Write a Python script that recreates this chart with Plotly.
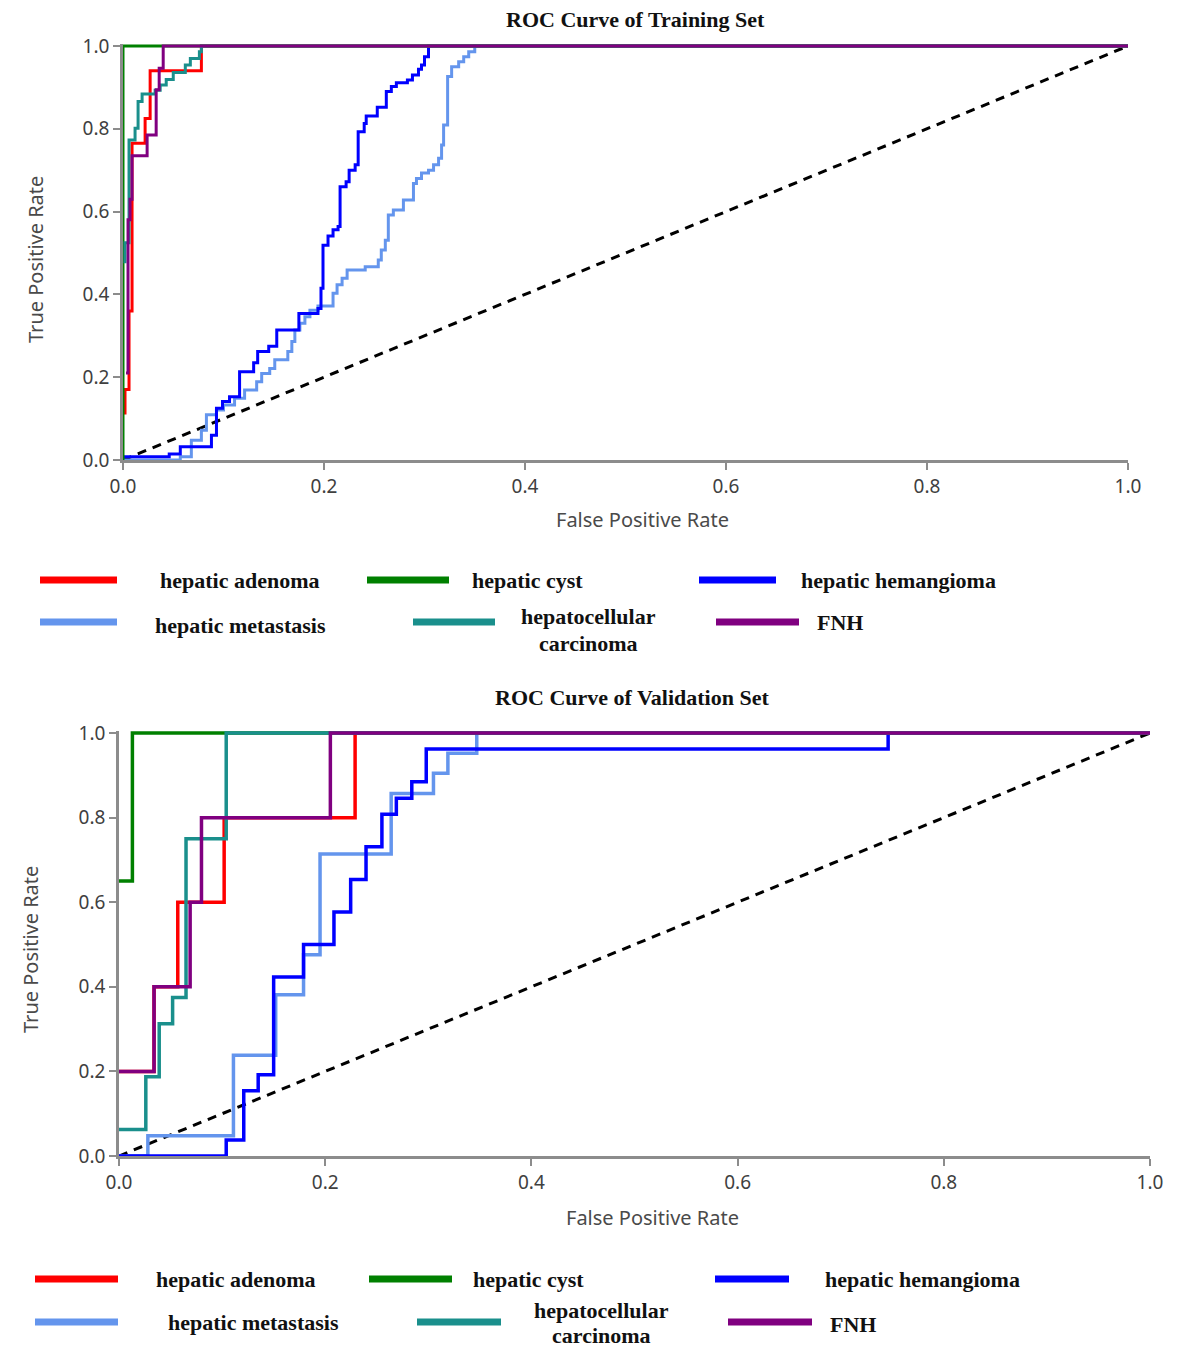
import plotly.graph_objs as go

# ROC points (fpr, tpr), drawn as steps
train_adenoma_fpr = [0.002, 0.002, 0.006, 0.009, 0.022, 0.027, 0.078, 1.0]
train_adenoma_tpr = [0.11, 0.17, 0.36, 0.765, 0.825, 0.94, 1.0, 1.0]
train_cyst_fpr = [0.0, 0.0, 1.0]
train_cyst_tpr = [0.0, 1.0, 1.0]
train_hemangioma_fpr = [0.0, 0.046, 0.057, 0.088, 0.093, 0.099, 0.106, 0.116, 0.130, 0.134,
                        0.145, 0.153, 0.175, 0.194, 0.197, 0.199, 0.204, 0.209, 0.214, 0.216,
                        0.222, 0.225, 0.231, 0.234, 0.240, 0.242, 0.253, 0.262, 0.267, 0.272,
                        0.283, 0.288, 0.294, 0.297, 0.300, 0.304, 1.0]
train_hemangioma_tpr = [0.008, 0.0145, 0.032, 0.060, 0.125, 0.141, 0.153, 0.213, 0.235, 0.262,
                        0.275, 0.314, 0.354, 0.366, 0.415, 0.519, 0.541, 0.556, 0.564, 0.660,
                        0.672, 0.700, 0.713, 0.793, 0.813, 0.831, 0.852, 0.890, 0.902, 0.911,
                        0.918, 0.930, 0.944, 0.954, 0.974, 1.0, 1.0]
train_metastasis_fpr = [0.0, 0.057, 0.068, 0.078, 0.083, 0.093, 0.100, 0.111, 0.121, 0.133,
                        0.138, 0.146, 0.151, 0.164, 0.168, 0.171, 0.176, 0.181, 0.186, 0.194,
                        0.209, 0.213, 0.218, 0.223, 0.241, 0.254, 0.257, 0.261, 0.264, 0.269,
                        0.279, 0.289, 0.292, 0.297, 0.304, 0.309, 0.314, 0.317, 0.319, 0.323,
                        0.327, 0.334, 0.339, 0.344, 0.350, 1.0]
train_metastasis_tpr = [0.0, 0.008, 0.048, 0.072, 0.109, 0.121, 0.133, 0.149, 0.169, 0.189,
                        0.209, 0.221, 0.242, 0.262, 0.286, 0.314, 0.330, 0.346, 0.362, 0.372,
                        0.403, 0.423, 0.439, 0.459, 0.467, 0.483, 0.507, 0.531, 0.592, 0.604,
                        0.628, 0.668, 0.680, 0.693, 0.700, 0.713, 0.729, 0.761, 0.809, 0.926,
                        0.950, 0.962, 0.974, 0.986, 1.0, 1.0]
train_hcc_fpr = [0.002, 0.002, 0.006, 0.012, 0.015, 0.019, 0.032, 0.037, 0.043, 0.050,
                 0.062, 0.067, 0.076, 0.078, 1.0]
train_hcc_tpr = [0.475, 0.525, 0.773, 0.801, 0.866, 0.884, 0.893, 0.906, 0.919, 0.936,
                 0.954, 0.970, 0.986, 1.0, 1.0]
train_fnh_fpr = [0.003, 0.005, 0.007, 0.009, 0.024, 0.033, 0.036, 0.040, 1.0]
train_fnh_tpr = [0.21, 0.58, 0.63, 0.735, 0.785, 0.894, 0.946, 1.0, 1.0]

val_adenoma_fpr = [0.0, 0.034, 0.057, 0.102, 0.229, 1.0]
val_adenoma_tpr = [0.2, 0.4, 0.6, 0.8, 1.0, 1.0]
val_cyst_fpr = [0.0, 0.013, 1.0]
val_cyst_tpr = [0.65, 1.0, 1.0]
val_hemangioma_fpr = [0.0, 0.104, 0.104, 0.121, 0.135, 0.150, 0.179, 0.2085, 0.2247, 0.2396,
                      0.255, 0.269, 0.284, 0.298, 0.746, 1.0]
val_hemangioma_tpr = [0.0, 0.0, 0.038, 0.154, 0.192, 0.423, 0.5, 0.577, 0.654, 0.731,
                      0.808, 0.846, 0.885, 0.962, 1.0, 1.0]
val_metastasis_fpr = [0.0, 0.028, 0.111, 0.152, 0.179, 0.195, 0.264, 0.305, 0.319, 0.347, 1.0]
val_metastasis_tpr = [0.0, 0.048, 0.238, 0.381, 0.476, 0.714, 0.857, 0.905, 0.952, 1.0, 1.0]
val_hcc_fpr = [0.0, 0.026, 0.039, 0.052, 0.065, 0.104, 1.0]
val_hcc_tpr = [0.0625, 0.1875, 0.3125, 0.375, 0.75, 1.0, 1.0]
val_fnh_fpr = [0.0, 0.034, 0.069, 0.080, 0.205, 1.0]
val_fnh_tpr = [0.2, 0.4, 0.6, 0.8, 1.0, 1.0]

chance = [0.0, 1.0]
tick_vals = [0.0, 0.2, 0.4, 0.6, 0.8, 1.0]

names = ['hepatic adenoma', 'hepatic cyst', 'hepatic hemangioma',
         'hepatic metastasis', 'hepatocellular<br>carcinoma', 'FNH']
colors = {
    'hepatic adenoma': '#ff0000',
    'hepatic cyst': '#008000',
    'hepatic hemangioma': '#0000ff',
    'hepatic metastasis': '#6495ed',
    'hepatocellular<br>carcinoma': '#1a8f8c',
    'FNH': '#800080',
}

train = {
    'hepatic metastasis': (train_metastasis_fpr, train_metastasis_tpr),
    'hepatic hemangioma': (train_hemangioma_fpr, train_hemangioma_tpr),
    'hepatic adenoma': (train_adenoma_fpr, train_adenoma_tpr),
    'hepatic cyst': (train_cyst_fpr, train_cyst_tpr),
    'hepatocellular<br>carcinoma': (train_hcc_fpr, train_hcc_tpr),
    'FNH': (train_fnh_fpr, train_fnh_tpr),
}
val = {
    'hepatic metastasis': (val_metastasis_fpr, val_metastasis_tpr),
    'hepatic hemangioma': (val_hemangioma_fpr, val_hemangioma_tpr),
    'hepatic adenoma': (val_adenoma_fpr, val_adenoma_tpr),
    'hepatic cyst': (val_cyst_fpr, val_cyst_tpr),
    'hepatocellular<br>carcinoma': (val_hcc_fpr, val_hcc_tpr),
    'FNH': (val_fnh_fpr, val_fnh_tpr),
}

# page body adds an 8px margin, so the figure is a bit smaller than the window
OFF = 8
W, H = 1181 - OFF, 1348 - OFF


def px(x):
    return (x - OFF) / W


def py(y):
    return 1 - (y - OFF) / H


fig = go.Figure()

for data, xa, ya, lw in [(train, 'x', 'y', 3), (val, 'x2', 'y2', 3.5)]:
    fig.add_trace(go.Scatter(x=chance, y=chance, mode='lines', xaxis=xa, yaxis=ya,
                             line=dict(color='black', width=3, dash='9px,7px'),
                             showlegend=False))
    for name, (fpr, tpr) in data.items():
        fig.add_trace(go.Scatter(x=fpr, y=tpr, mode='lines', xaxis=xa, yaxis=ya,
                                 line=dict(color=colors[name], width=lw, shape='hv'),
                                 showlegend=False))

axis_style = dict(
    showgrid=False, zeroline=False, showline=True, linecolor='#8c8c8c', linewidth=2.5,
    ticks='outside', ticklen=7, tickwidth=2, tickcolor='#8c8c8c',
    tickvals=tick_vals, tickformat='.1f', automargin=False,
    tickfont=dict(family='Noto Sans', size=19, color='#404040'),
)

fig.update_layout(
    width=W, height=H,
    margin=dict(l=0, r=0, t=0, b=0, autoexpand=False),
    plot_bgcolor='white', paper_bgcolor='white',
    showlegend=False,
    xaxis=dict(axis_style, domain=[px(123), px(1128)], range=[0, 1], anchor='y'),
    yaxis=dict(axis_style, domain=[py(460), py(43.5)], range=[0, 1.006], anchor='x'),
    xaxis2=dict(axis_style, domain=[px(119), px(1150)], range=[0, 1], anchor='y2'),
    yaxis2=dict(axis_style, domain=[py(1156), py(730.5)], range=[0, 1.006], anchor='x2'),
)

title_font = dict(family='Liberation Serif', size=22, color='#111')
label_font = dict(family='Noto Sans', size=20, color='#4a4a4a')
annotations = [
    dict(text='<b>ROC Curve of Training Set</b>', x=px(635), y=py(20), font=title_font),
    dict(text='<b>ROC Curve of Validation Set</b>', x=px(632), y=py(697), font=title_font),
    dict(text='False Positive Rate', x=px(642), y=py(519), font=label_font),
    dict(text='True Positive Rate', x=px(35), y=py(260), font=label_font, textangle=-90),
    dict(text='False Positive Rate', x=px(652), y=py(1217), font=label_font),
    dict(text='True Positive Rate', x=px(30), y=py(950), font=label_font, textangle=-90),
]

# custom legend blocks: line x0, x1, y, text x, text y (second line y for wrapped name)
legend_top = [
    (40, 117, 580, 240, [580]), (367, 449, 580, 527, [580]), (699, 776, 580, 898, [580]),
    (40, 117, 622, 240, [625]), (413, 495, 622, 588, [617, 643]), (716, 799, 622, 840, [622]),
]
legend_bottom = [
    (35, 118, 1279, 236, [1279]), (369, 452, 1279, 528, [1279]), (715, 789, 1279, 922, [1279]),
    (35, 118, 1322, 253, [1322]), (417, 501, 1322, 601, [1310, 1335]),
    (728, 812, 1322, 853, [1324]),
]
shapes = []
legend_font = dict(family='Liberation Serif', size=22, color='#111')
for block in [legend_top, legend_bottom]:
    for name, (x0, x1, ly, tx, tys) in zip(names, block):
        shapes.append(dict(type='line', xref='paper', yref='paper',
                           x0=px(x0), x1=px(x1), y0=py(ly), y1=py(ly),
                           line=dict(color=colors[name], width=7)))
        for part, ty in zip(name.split('<br>'), tys):
            annotations.append(dict(text='<b>' + part + '</b>', x=px(tx), y=py(ty),
                                    font=legend_font, borderpad=0))

for a in annotations:
    a.update(xref='paper', yref='paper', showarrow=False, xanchor='center', yanchor='middle')

fig.update_layout(annotations=annotations, shapes=shapes)

fig.write_html("out.html")
